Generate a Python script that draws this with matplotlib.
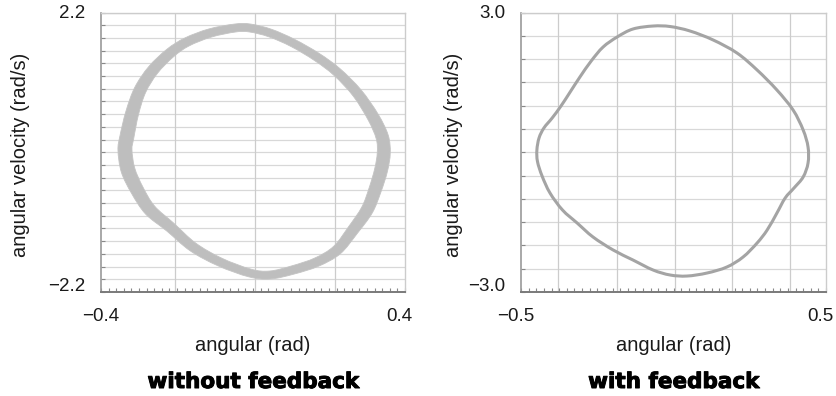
import numpy as np
import matplotlib.pyplot as plt
from matplotlib.path import Path
from matplotlib.patches import PathPatch
import matplotlib.patheffects as pe

plt.rcParams['font.family'] = ['Liberation Sans', 'DejaVu Sans']

# ---- phase portrait without feedback (drifting orbit -> wide band) ----
theta_open = [-0.337, -0.332, -0.318, -0.297, -0.263, -0.218, -0.174, -0.113, -0.047,
              -0.008, 0.045, 0.105, 0.168, 0.221, 0.274, 0.316, 0.340, 0.344,
              0.337, 0.321, 0.300, 0.263, 0.221, 0.168, 0.105, 0.045, -0.008,
              -0.087, -0.158, -0.218, -0.271, -0.305, -0.329]
omega_open = [0.036, 0.240, 0.618, 0.980, 1.295, 1.562, 1.736, 1.877, 1.956,
              1.956, 1.877, 1.720, 1.500, 1.263, 0.933, 0.555, 0.240, -0.012,
              -0.279, -0.594, -0.909, -1.224, -1.539, -1.728, -1.853, -1.932, -1.901,
              -1.728, -1.491, -1.177, -0.909, -0.594, -0.279]
# band thickness of the drifting orbit (pixels at 100 dpi)
band_px = [14, 14, 13, 12, 11, 10, 9, 8.5, 8, 8, 8, 8, 8.5, 9, 10, 11.5, 12.5, 13,
           13, 12.5, 12, 11, 10, 9, 8.5, 8, 8, 8.5, 9.5, 10.5, 12, 13, 14]

# ---- phase portrait with feedback (single closed orbit) ----
theta_fb = [-0.448, -0.441, -0.425, -0.398, -0.369, -0.339, -0.307, -0.270, -0.231,
            -0.185, -0.133, -0.067, -0.011, 0.054, 0.130, 0.208, 0.274, 0.339,
            0.392, 0.425, 0.441, 0.441, 0.425, 0.395, 0.366, 0.339, 0.307,
            0.274, 0.228, 0.175, 0.110, 0.044, -0.011, -0.067, -0.133, -0.198,
            -0.264, -0.316, -0.364, -0.405, -0.431, -0.446]
omega_fb = [0.048, 0.306, 0.521, 0.735, 0.993, 1.293, 1.615, 1.959, 2.259,
            2.474, 2.646, 2.710, 2.699, 2.603, 2.410, 2.131, 1.766, 1.336,
            0.907, 0.478, 0.113, -0.231, -0.531, -0.767, -0.982, -1.304, -1.669,
            -1.948, -2.249, -2.463, -2.592, -2.657, -2.635, -2.528, -2.313, -2.098,
            -1.819, -1.519, -1.240, -0.875, -0.510, -0.200]

panels = [
    dict(x=theta_open, y=omega_open, xlim=(-0.4, 0.4), ylim=(-2.2, 2.2),
         xlabels=["\u22120.4", "0.4"], ylabels=["\u22122.2", "2.2"],
         vgrid=[-0.205, 0.005, 0.215], hstep=0.2, minor=0.02,
         title="without feedback"),
    dict(x=theta_fb, y=omega_fb, xlim=(-0.5, 0.5), ylim=(-3.0, 3.0),
         xlabels=["\u22120.5", "0.5"], ylabels=["\u22123.0", "3.0"],
         vgrid=[-0.379, -0.185, 0.005, 0.192, 0.382], hstep=0.5, minor=0.025,
         title="with feedback"),
]


def closed_bezier(pts):
    # Catmull-Rom through the points, written as cubic Bezier pieces
    n = len(pts)
    verts = [pts[0]]
    codes = [Path.MOVETO]
    for k in range(n):
        p0, p1, p2, p3 = pts[k - 1], pts[k], pts[(k + 1) % n], pts[(k + 2) % n]
        verts += [p1 + (p2 - p0) / 6, p2 - (p3 - p1) / 6, p2]
        codes += [Path.CURVE4] * 3
    verts.append(pts[0])
    codes.append(Path.CLOSEPOLY)
    return np.array(verts), codes


fig = plt.figure(figsize=(8.37, 3.96), dpi=100)
rects = [[0.1207, 0.2626, 0.3632, 0.7058], [0.6225, 0.2626, 0.3644, 0.7058]]
xlab_shift = [(0.0, -0.02), (-0.016, -0.02)]

for i, (p, r) in enumerate(zip(panels, rects)):
    ax = fig.add_axes(r)
    ax.set_xlim(*p["xlim"])
    ax.set_ylim(*p["ylim"])

    # light grid
    y0, y1 = p["ylim"]
    hlines = np.arange(y0, y1 + 1e-9, p["hstep"])
    ax.hlines(hlines, *p["xlim"], colors="#d8d8d8", linewidth=0.9, zorder=0)
    ax.vlines(p["vgrid"], y0, y1, colors="#cccccc", linewidth=0.9, zorder=0)

    pts = np.column_stack((p["x"], p["y"]))
    if i == 0:
        # offset the centre line both ways in pixel space to get the band edges
        disp = ax.transData.transform(pts)
        tang = np.roll(disp, -1, axis=0) - np.roll(disp, 1, axis=0)
        tang /= np.hypot(tang[:, 0], tang[:, 1])[:, None]
        norm = np.column_stack((tang[:, 1], -tang[:, 0]))
        half = np.array(band_px)[:, None] / 2
        inv = ax.transData.inverted()
        outer = inv.transform(disp + norm * half)
        inner = inv.transform(disp - norm * half)[::-1]
        v1, c1 = closed_bezier(outer)
        v2, c2 = closed_bezier(inner)
        band = Path(np.vstack([v1, v2]), c1 + c2)
        ax.add_patch(PathPatch(band, facecolor="#bebebe", edgecolor="#c4c4c4",
                               linewidth=0.6, zorder=2))
    else:
        v, c = closed_bezier(pts)
        ax.add_patch(PathPatch(Path(v, c), facecolor="none", edgecolor="#a4a4a4",
                               linewidth=2.2, zorder=2))

    # frame
    for side in ("top", "right"):
        ax.spines[side].set_color("#cccccc")
        ax.spines[side].set_linewidth(1.0)
    ax.spines["left"].set_color("#9a9a9a")
    ax.spines["bottom"].set_color("#7a7a7a")
    ax.spines["left"].set_linewidth(1.2)
    ax.spines["bottom"].set_linewidth(1.4)

    ax.set_xticks([])
    ax.set_yticks([])
    ax.set_xticks(np.arange(p["xlim"][0], p["xlim"][1] + 1e-9, p["minor"]), minor=True)
    ax.set_yticks(hlines, minor=True)
    ax.tick_params(which="minor", direction="in", length=3, width=0.8,
                   color="#888888", labelbottom=False, labelleft=False)

    # end labels of both axes
    for xa, lab, dx in zip((0.0, 1.0), p["xlabels"], xlab_shift[i]):
        ax.text(xa + dx, -0.089, lab, transform=ax.transAxes, ha="center",
                va="center", fontsize=13.5, color="#1a1a1a")
    for ya, lab in zip((0.018, 0.998), p["ylabels"]):
        ax.text(-0.052, ya, lab, transform=ax.transAxes, ha="right",
                va="center", fontsize=13.5, color="#1a1a1a")

    ax.text(0.5, -0.193, "angular (rad)", transform=ax.transAxes,
            ha="center", va="center", fontsize=14.5, color="#1a1a1a")
    ax.text(-0.266 if i == 0 else -0.22, 0.49, "angular velocity (rad/s)",
            transform=ax.transAxes, rotation=90, ha="center", va="center",
            fontsize=14.5, color="#1a1a1a")
    ax.text(0.5, -0.322, p["title"], transform=ax.transAxes, ha="center",
            va="center", fontsize=15.5, fontweight="bold",
            family=["DejaVu Sans"], color="black",
            path_effects=[pe.withStroke(linewidth=0.7, foreground="black")])

fig.savefig("out.png", dpi=100)
